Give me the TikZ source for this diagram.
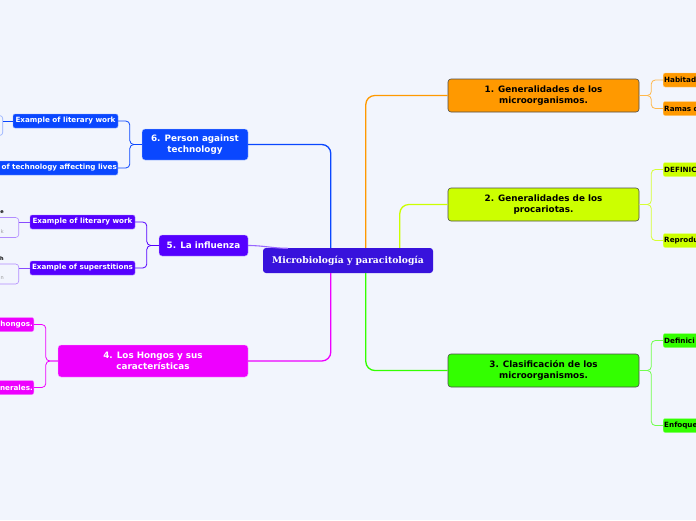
\documentclass[tikz,border=0pt]{standalone}
\usepackage{fontspec}
\setmainfont{DejaVu Sans}
\newfontfamily\rootfont{DejaVu Serif}
\usepackage{xcolor}
\usepackage{tikz}
\usetikzlibrary{positioning}

\definecolor{paperbg}{HTML}{F2F5FD}
\definecolor{rootfill}{HTML}{3812DC}
\definecolor{orangeb}{HTML}{FF9900}
\definecolor{limeb}{HTML}{CCFF00}
\definecolor{greenb}{HTML}{33FF00}
\definecolor{blueb}{HTML}{0A47FF}
\definecolor{purpleb}{HTML}{5500FF}
\definecolor{magentab}{HTML}{EE00FF}

\begin{document}
\begin{tikzpicture}[x=1pt,y=-1pt,
  topic/.style={rounded corners=3pt,inner sep=2pt,align=center,font=\bfseries\fontsize{8.8}{10.5}\selectfont},
  rtopic/.style={topic,draw=black!70,line width=0.6pt,text=black,minimum width=191pt,minimum height=33pt},
  ltopic/.style={topic,draw=white!70!#1,fill=#1,text=white},
  leaf/.style={rounded corners=2pt,inner sep=1pt,minimum height=14pt,font=\bfseries\fontsize{7.2}{8}\selectfont},
  rleaf/.style={leaf,anchor=west,text width=56pt,align=left,text=black,draw=white!50!#1,fill=#1},
  lleaf/.style={leaf,text=white,draw=white!50!#1,fill=#1},
  ghost/.style={draw=#1!45,rounded corners=3pt,line width=0.6pt,minimum width=40pt,minimum height=20pt,anchor=east},
  tiny/.style={font=\fontsize{5}{6}\selectfont,inner sep=0pt,anchor=east},
  branch/.style={line width=1.3pt,rounded corners=9pt},
  twig/.style={line width=0.8pt,rounded corners=4pt}]
  \fill[paperbg] (0,0) rectangle (696,520);
  \useasboundingbox (0,0) rectangle (696,520);
  \clip (0,0) rectangle (696,520);

  % central topic
  \node[rounded corners=3pt,fill=rootfill,text=white,minimum width=170pt,minimum height=25pt,
        font=\rootfont\bfseries\fontsize{9.2}{11}\selectfont] (root) at (348,260.5) {Microbiología y paracitología};

  % main topics
  \node[rtopic,fill=orangeb] (g1) at (543.5,95.5) {1. Generalidades de los\\microorganismos.};
  \node[rtopic,fill=limeb] (g2) at (543.5,204.5) {2. Generalidades de los\\procariotas.};
  \node[rtopic,fill=greenb] (g3) at (543.5,370.5) {3. Clasificación de los\\microorganismos.};
  \node[ltopic=blueb,minimum width=106pt,minimum height=31pt] (g6) at (195,144.5) {6. Person against\\technology};
  \node[ltopic=purpleb,minimum width=89pt,minimum height=21pt] (g5) at (203.5,245.5) {5. La influenza};
  \node[ltopic=magentab,minimum width=190pt,minimum height=32pt] (g4) at (153,361) {4. Los Hongos y sus\\características};

  % subtopics
  \node[rleaf=orangeb] (g1a) at (663,80) {Habitad};
  \node[rleaf=orangeb] (g1b) at (663,108.5) {Ramas de};
  \node[rleaf=limeb] (g2a) at (663,169.5) {DEFINICI};
  \node[rleaf=limeb] (g2b) at (663,240.5) {Reproduc};
  \node[rleaf=greenb] (g3a) at (663,340.5) {Definici};
  \node[rleaf=greenb] (g3b) at (663,425.5) {Enfoque};
  \node[lleaf=blueb,minimum width=105pt] (g6a) at (65.5,121) {Example of literary work};
  \node[lleaf=blueb,anchor=east,text width=140pt,align=right] (g6b) at (118,168) {of technology affecting lives};
  \node[lleaf=purpleb,minimum width=105pt] (g5a) at (82.5,222) {Example of literary work};
  \node[lleaf=purpleb,minimum width=105pt] (g5b) at (82.5,268) {Example of superstitions};
  \node[lleaf=magentab,anchor=east,text width=40pt,align=right] (g4a) at (34,324.5) {hongos.};
  \node[lleaf=magentab,anchor=east,text width=40pt,align=right] (g4b) at (34,387.5) {nerales.};

  % cut-off notes at the left edge
  \node[ghost=blueb] (n6a) at (3,125.5) {};
  \node[ghost=purpleb] (n5a) at (19,227.5) {};
  \node[ghost=purpleb] (n5b) at (19,274) {};
  \node[tiny,text=black] (t5a) at (4,212) {\bfseries e};
  \node[tiny,text=black!40] (s5a) at (4,232) {k};
  \node[tiny,text=black] (t5b) at (4,258.5) {\bfseries h};
  \node[tiny,text=black!40] (s5b) at (4,278.5) {n};

  % branches from the centre
  \draw[branch,blueb] ([xshift=68]root.north west) |- (g6);
  \draw[branch,orangeb] ([xshift=103]root.north west) |- (g1);
  \draw[branch,limeb] ([xshift=137]root.north west) |- (g2);
  \draw[branch,greenb] ([xshift=103]root.south west) |- (g3);
  \draw[branch,magentab] ([xshift=68]root.south west) |- (g4);
  \draw[line width=1.1pt,purpleb!60] (g5.east) to[out=0,in=180] ([xshift=25,yshift=-0.5]root.north west);

  % twigs
  \draw[twig,orangeb!70] (g1.east) -- ++(12,0) |- (g1a.west);
  \draw[twig,orangeb!70] (g1.east) -- ++(12,0) |- (g1b.west);
  \draw[twig,limeb!80!white] (g2.east) -- ++(12,0) |- (g2a.west);
  \draw[twig,limeb!80!white] (g2.east) -- ++(12,0) |- (g2b.west);
  \draw[twig,greenb!70] (g3.east) -- ++(12,0) |- (g3a.west);
  \draw[twig,greenb!70] (g3.east) -- ++(12,0) |- (g3b.west);
  \draw[twig,blueb] (g6.west) -- ++(-12,0) |- (g6a.east);
  \draw[twig,blueb] (g6.west) -- ++(-12,0) |- (g6b.east);
  \draw[twig,purpleb] (g5.west) -- ++(-12,0) |- (g5a.east);
  \draw[twig,purpleb] (g5.west) -- ++(-12,0) |- (g5b.east);
  \draw[twig,magentab] (g4.west) -- ++(-12,0) |- (g4a.east);
  \draw[twig,magentab] (g4.west) -- ++(-12,0) |- (g4b.east);
  \draw[twig,blueb] (g6a.west) -- (g6a.west -| n6a.east);
  \draw[twig,purpleb!70] (g5a.west) -- (g5a.west -| n5a.east);
  \draw[twig,purpleb!70] (g5b.west) -- (g5b.west -| n5b.east);
\end{tikzpicture}
\end{document}
